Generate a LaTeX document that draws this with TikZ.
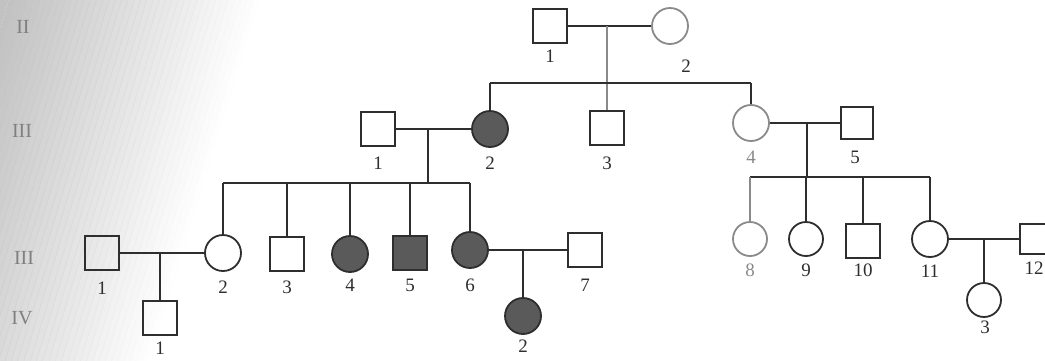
\documentclass[tikz,border=0pt]{standalone}
\usepackage{fontspec}
\setmainfont{Liberation Serif}
\definecolor{ink}{HTML}{2E2E2E}
\definecolor{affc}{HTML}{5A5A5A}
\definecolor{soft}{HTML}{8A8A8A}
\begin{document}
\begin{tikzpicture}[x=1pt,y=-1pt,
  ln/.style={line width=1.8pt, draw=ink},
  sq/.style={draw=ink, line width=1.8pt, rectangle, minimum size=34pt, inner sep=0pt},
  ci/.style={draw=ink, line width=1.8pt, circle, minimum size=36pt, inner sep=0pt},
  aff/.style={fill=affc},
  num/.style={font=\fontsize{19}{19}\selectfont, text=ink, inner sep=0pt},
  gen/.style={font=\fontsize{20}{20}\selectfont, text=black!50, inner sep=0pt},
]
\useasboundingbox (0,0) rectangle (1045,360);
\begin{scope}
\clip (0,0) rectangle (1045,360);
\fill[white] (0,0) rectangle (1045,360);
\begin{scope}[rotate around={-17:(100,180)}]
\fill[black!24] (-300,-300) rectangle (-40,700);
\foreach \i in {0,...,39} {
  \pgfmathsetmacro{\op}{1-(\i+0.5)/40}
  \fill[black!24, opacity=\op] (-40+6*\i,-300) rectangle (-40+6*\i+6.3,700);
}
\end{scope}
\end{scope}

% generation labels
\node[gen] (gI) at (23,27) {II};
\node[gen] (gII) at (22,131) {III};
\node[gen] (gIII) at (24,258) {III};
\node[gen] (gIV) at (22,318) {IV};

% generation I
\node[sq] (I1) at (550,26) {};
\node[ci, draw=soft] (I2) at (670,26) {};
\node[num] (lI1) at (550,56) {1};
\node[num] (lI2) at (686,66) {2};

% generation II
\node[sq] (II1) at (378,129) {};
\node[ci,aff] (II2) at (490,129) {};
\node[sq] (II3) at (607,128) {};
\node[ci, draw=soft] (II4) at (751,123) {};
\node[sq, minimum size=32pt] (II5) at (857,123) {};
\node[num] (lII1) at (378,163) {1};
\node[num] (lII2) at (490,163) {2};
\node[num] (lII3) at (607,163) {3};
\node[num, text=soft] (lII4) at (751,157) {4};
\node[num] (lII5) at (855,157) {5};

% generation III
\node[sq] (III1) at (102,253) {};
\node[ci] (III2) at (223,253) {};
\node[sq] (III3) at (287,254) {};
\node[ci,aff] (III4) at (350,254) {};
\node[sq,aff] (III5) at (410,253) {};
\node[ci,aff] (III6) at (470,250) {};
\node[sq] (III7) at (585,250) {};
\node[ci, draw=soft, minimum size=34pt] (III8) at (750,239) {};
\node[ci, minimum size=34pt] (III9) at (806,239) {};
\node[sq] (III10) at (863,241) {};
\node[ci] (III11) at (930,239) {};
\node[sq, minimum width=34pt, minimum height=30pt] (III12) at (1037,239) {};
\node[num] (lIII1) at (102,288) {1};
\node[num] (lIII2) at (223,287) {2};
\node[num] (lIII3) at (287,287) {3};
\node[num] (lIII4) at (350,285) {4};
\node[num] (lIII5) at (410,285) {5};
\node[num] (lIII6) at (470,285) {6};
\node[num] (lIII7) at (585,285) {7};
\node[num, text=soft] (lIII8) at (750,270) {8};
\node[num] (lIII9) at (806,270) {9};
\node[num] (lIII10) at (863,270) {10};
\node[num] (lIII11) at (930,271) {11};
\node[num] (lIII12) at (1034,268) {12};

% generation IV
\node[sq] (IV1) at (160,318) {};
\node[ci,aff] (IV2) at (523,316) {};
\node[ci, minimum size=34pt] (IV3) at (984,300) {};
\node[num] (lIV1) at (160,348) {1};
\node[num] (lIV2) at (523,346) {2};
\node[num] (lIV3) at (985,327) {3};

% I-1 x I-2
\draw[ln] (I1.east) -- (I2.west);
\coordinate (mI) at (607,26);
\coordinate (sI) at (607,83);
\draw[ln, draw=soft] (mI) -- (II3.north);
\draw[ln] (II2.north |- sI) -- (II4.north |- sI);
\draw[ln] (II2.north |- sI) -- (II2.north);
\draw[ln] (II4.north |- sI) -- (II4.north);

% II-1 x II-2
\draw[ln] (II1.east) -- (II2.west);
\coordinate (mII) at (428,129);
\coordinate (sII) at (428,183);
\draw[ln] (mII) -- (sII);
\draw[ln] (III2.north |- sII) -- (III6.north |- sII);
\foreach \c in {III2,III3,III4,III5,III6} \draw[ln] (\c.north |- sII) -- (\c.north);

% II-4 x II-5
\draw[ln] (II4.east) -- (II5.west);
\coordinate (mII2) at (807,123);
\coordinate (sII2) at (807,177);
\draw[ln] (mII2) -- (sII2);
\draw[ln] (III8.north |- sII2) -- (III11.north |- sII2);
\draw[ln, draw=soft] (III8.north |- sII2) -- (III8.north);
\foreach \c in {III9,III10,III11} \draw[ln] (\c.north |- sII2) -- (\c.north);

% III-1 x III-2
\draw[ln] (III1.east) -- (III2.west);
\coordinate (mIII1) at (160,253);
\draw[ln] (mIII1) -- (IV1.north);

% III-6 x III-7
\draw[ln] (III6.east) -- (III7.west);
\coordinate (mIII6) at (523,250);
\draw[ln] (mIII6) -- (IV2.north);

% III-11 x III-12
\draw[ln] (III11.east) -- (III12.west);
\coordinate (mIII11) at (984,239);
\draw[ln] (mIII11) -- (IV3.north);
\end{tikzpicture}
\end{document}
